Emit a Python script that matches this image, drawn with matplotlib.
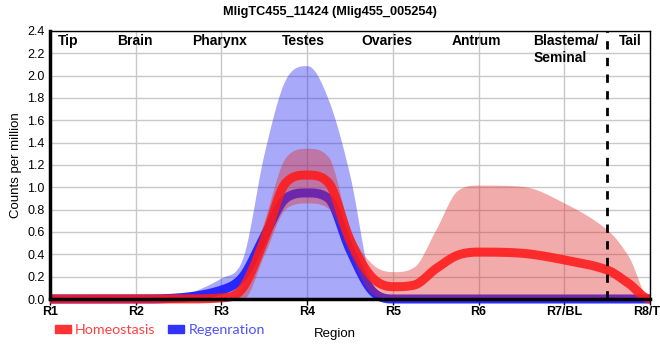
import numpy as np
import matplotlib
matplotlib.use("Agg")
import matplotlib.pyplot as plt
from matplotlib.patches import Patch

plt.rcParams["font.family"] = ["Liberation Sans", "DejaVu Sans"]

# region positions (R1 = 1 ... R8 = 8) where values were read
x_pts = [1, 2, 2.5, 3, 3.25, 3.5, 3.75, 4, 4.25, 4.5, 4.75, 5, 5.25, 5.5, 5.75, 6, 6.5, 7, 7.5, 7.75, 8]

homeo_mean = [0, 0, 0, 0.01, 0.10, 0.53, 1.04, 1.11, 1.04, 0.53, 0.20, 0.11, 0.125, 0.27, 0.39, 0.42, 0.41, 0.35, 0.26, 0.14, 0]
homeo_upper = [0, 0, 0, 0.01, 0.12, 0.70, 1.27, 1.35, 1.27, 0.62, 0.32, 0.245, 0.29, 0.62, 0.97, 1.02, 1.01, 0.86, 0.62, 0.38, 0]
homeo_lower = [0, 0, 0, 0, 0, 0.40, 0.81, 0.86, 0.81, 0.40, 0.05, 0, 0, 0, 0, 0, 0, 0, 0, 0, 0]

regen_mean = [0, 0, 0.01, 0.08, 0.20, 0.56, 0.90, 0.95, 0.90, 0.44, 0.08, 0, 0, 0, 0, 0, 0, 0, 0, 0, 0]
regen_upper = [0, 0, 0.03, 0.19, 0.37, 1.31, 1.97, 2.09, 1.78, 1.10, 0.15, 0, 0, 0, 0, 0, 0, 0, 0, 0, 0]
regen_lower = [0] * len(x_pts)

tick_labels = ["R1", "R2", "R3", "R4", "R5", "R6", "R7/BL", "R8/TL"]
region_names = ["Tip", "Brain", "Pharynx", "Testes", "Ovaries", "Antrum", "Blastema/\nSeminal", "Tail"]
region_x = [1.21, 1.99, 2.98, 3.96, 4.93, 5.98, 6.64, 7.77]
tail_cut = 7.5


def smooth(x, y, xs):
    """Monotone-limited cubic Hermite, only used to draw smooth curves."""
    x = np.asarray(x, float)
    y = np.asarray(y, float)
    h = np.diff(x)
    d = np.diff(y) / h
    m = np.zeros_like(y)
    for k in range(1, len(x) - 1):
        if d[k - 1] * d[k] > 0:
            c = (y[k + 1] - y[k - 1]) / (x[k + 1] - x[k - 1])
            lim = 3 * min(abs(d[k - 1]), abs(d[k]))
            m[k] = np.sign(c) * min(abs(c), lim)
    i = np.clip(np.searchsorted(x, xs) - 1, 0, len(x) - 2)
    t = (xs - x[i]) / h[i]
    h00 = 2 * t**3 - 3 * t**2 + 1
    h10 = t**3 - 2 * t**2 + t
    h01 = -2 * t**3 + 3 * t**2
    h11 = t**3 - t**2
    return h00 * y[i] + h10 * h[i] * m[i] + h01 * y[i + 1] + h11 * h[i] * m[i + 1]


xs = np.linspace(1, 8, 700)

fig = plt.figure(figsize=(6.6, 3.6), dpi=100)
ax = fig.add_axes([50 / 660, 61 / 360, 600 / 660, 268 / 360])

ax.fill_between(xs, smooth(x_pts, regen_lower, xs), smooth(x_pts, regen_upper, xs),
                color="#2828f0", alpha=0.4, linewidth=0, zorder=2)
ax.plot(xs, smooth(x_pts, regen_mean, xs), color="#2020ff", linewidth=6.5, alpha=0.95,
        solid_capstyle="butt", zorder=3, clip_on=False)
ax.fill_between(xs, smooth(x_pts, homeo_lower, xs), smooth(x_pts, homeo_upper, xs),
                color="#e02828", alpha=0.39, linewidth=0, zorder=4)
ax.plot(xs, smooth(x_pts, homeo_mean, xs), color="#ff1a1a", linewidth=6.5, alpha=0.88,
        solid_capstyle="butt", zorder=5, clip_on=False)

ax.axvline(tail_cut, color="black", linestyle=(0, (3, 3)), linewidth=2, zorder=6)

for name, rx in zip(region_names, region_x):
    if "\n" in name:
        ax.text(rx, 2.37, name, ha="left", va="top", fontsize=10, fontweight="bold",
                multialignment="left", zorder=7)
    else:
        ax.text(rx, 2.37, name, ha="center", va="top", fontsize=10, fontweight="bold", zorder=7)

ax.set_xlim(1, 8)
ax.set_ylim(0, 2.4)
ax.set_xticks(range(1, 9))
ax.set_xticklabels(tick_labels, fontsize=9, fontweight="bold")
ax.set_yticks(np.arange(0, 2.41, 0.2))
ax.set_yticklabels([f"{v:.1f}" for v in np.arange(0, 2.41, 0.2)], fontsize=9)
ax.tick_params(axis="x", length=4, width=1, pad=1)
ax.tick_params(axis="y", length=0, pad=4)
ax.grid(True, color="#c8c8c8", linewidth=1, zorder=0)
ax.set_axisbelow(True)

for side in ("top", "right"):
    ax.spines[side].set_linewidth(1)
for side in ("left", "bottom"):
    ax.spines[side].set_linewidth(2.5)
for sp in ax.spines.values():
    sp.set_zorder(8)

ax.set_ylabel("Counts per million", fontsize=9.5)
ax.yaxis.set_label_coords(-0.046, 0.5)
ax.set_xlabel("Region", fontsize=9.5)
ax.xaxis.set_label_coords(0.475, -0.11)

fig.text(0.5, 0.982, "MligTC455_11424 (Mlig455_005254)", ha="center", va="top",
         fontsize=9.2, fontweight="bold")

handles = [Patch(color="#ff3333"), Patch(color="#3333ff")]
leg = fig.legend(handles, ["Homeostasis", "Regenration"], loc="center left",
                 bbox_to_anchor=(42 / 660, 1 - 330 / 360), ncol=2, frameon=False,
                 handlelength=1.1, handleheight=0.55, handletextpad=0.3,
                 columnspacing=0.9, prop={"family": "Lato", "size": 10.3})
for txt, c in zip(leg.get_texts(), ["#ff4040", "#5050ff"]):
    txt.set_color(c)

fig.savefig("out.png", dpi=100)
